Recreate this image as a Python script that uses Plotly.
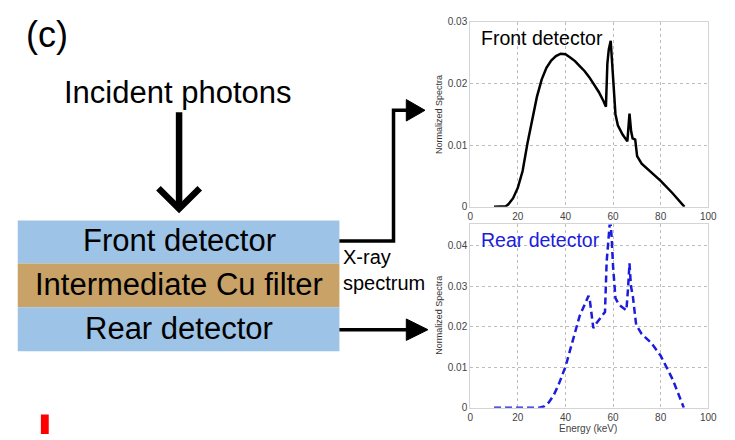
import plotly.graph_objects as go

# ---- spectra data (energy in keV, normalized counts) ----
front_energy = [10, 14, 15, 16, 18, 20, 22, 24, 26, 28, 30, 32, 34, 36, 38, 40, 42, 44, 46,
                48, 50, 52, 54, 56, 57, 57.6, 58.2, 59, 59.6, 60.3, 61, 62, 64, 66, 66.9,
                67.6, 68.2, 69.3, 70.1, 72, 75, 80, 85, 90]
front_spectrum = [0, 0, 0.0001, 0.0004, 0.0014, 0.0031, 0.0058, 0.0102, 0.0142, 0.0178, 0.0206,
                  0.0225, 0.0237, 0.0244, 0.0248, 0.0247, 0.0242, 0.0236, 0.0228, 0.0220,
                  0.0210, 0.0199, 0.0186, 0.0171, 0.0162, 0.0232, 0.0255, 0.0269, 0.0235,
                  0.0190, 0.0150, 0.0132, 0.0117, 0.0106, 0.0151, 0.0122, 0.0111, 0.0109,
                  0.0082, 0.0070, 0.0060, 0.0042, 0.0022, 0.0]

rear_energy = [10, 20, 29, 31, 33, 35, 37, 40, 42, 44, 46, 48, 49.7, 50.3, 51.7, 53, 55, 56.6,
               57.3, 58.2, 58.8, 59.4, 60, 61, 62.5, 64, 65.6, 66.3, 66.9, 67.5, 68.3, 69.7,
               72, 76, 80, 82, 85, 89.7]
rear_spectrum = [0, 0, 0, 0.0003, 0.0013, 0.0030, 0.0055, 0.0101, 0.0141, 0.0185, 0.0227,
                 0.0253, 0.0276, 0.0262, 0.0196, 0.0208, 0.0223, 0.0236, 0.0360, 0.0440,
                 0.0468, 0.0420, 0.0348, 0.0270, 0.0254, 0.0247, 0.0240, 0.0295, 0.0356,
                 0.0300, 0.0275, 0.0204, 0.0182, 0.0160, 0.0128, 0.0105, 0.0070, 0.0]

x_ticks = [0, 20, 40, 60, 80, 100]
front_y_ticks = [0, 0.01, 0.02, 0.03]
rear_y_ticks = [0, 0.01, 0.02, 0.03, 0.04]

layer_labels = ["Front detector", "Intermediate Cu filter", "Rear detector"]
layer_colors = ["#9dc3e6", "#c9a267", "#9dc3e6"]

W, H = 735, 440
FONT = "Liberation Sans, Arial, sans-serif"


def px(x):
    return x / W


def py(y):
    return 1 - y / H


fig = go.Figure()
fig.add_trace(go.Scatter(x=front_energy, y=front_spectrum, mode="lines",
                         line=dict(color="black", width=2.5), xaxis="x", yaxis="y"))
fig.add_trace(go.Scatter(x=rear_energy, y=rear_spectrum, mode="lines",
                         line=dict(color="#1c1cdc", width=2.5, dash="7px,4px"),
                         xaxis="x2", yaxis="y2"))

axis_common = dict(showline=True, mirror=True, linecolor="#d4d4d4", linewidth=1,
                   showgrid=True, gridcolor="#bdbdbd", griddash="dot", gridwidth=1,
                   zeroline=False, ticks="", tickfont=dict(family=FONT, size=10, color="#444"))

xdom = [px(475), px(717)]
fig.update_layout(
    width=W, height=H, margin=dict(l=0, r=0, t=0, b=0),
    paper_bgcolor="white", plot_bgcolor="white", showlegend=False,
    font=dict(family=FONT),
    xaxis=dict(domain=xdom, range=[0, 100], tickvals=x_ticks, anchor="y", **axis_common),
    yaxis=dict(domain=[py(207), py(17)], range=[0, 0.03], tickvals=front_y_ticks,
               anchor="x", **axis_common),
    xaxis2=dict(domain=xdom, range=[0, 100], tickvals=x_ticks, anchor="y2", **axis_common),
    yaxis2=dict(domain=[py(413), py(225)], range=[0, 0.0452], tickvals=rear_y_ticks,
                anchor="x2", **axis_common),
)

shapes = []
annotations = []

# layered detector stack
row_edges = [221, 265, 310, 355]
for i, (label, color) in enumerate(zip(layer_labels, layer_colors)):
    y0, y1 = row_edges[i], row_edges[i + 1]
    shapes.append(dict(type="rect", xref="paper", yref="paper",
                       x0=px(15), x1=px(342), y0=py(y1), y1=py(y0),
                       fillcolor=color, line=dict(width=0), layer="below"))
    annotations.append(dict(text=label, xref="paper", yref="paper",
                            x=px(179), y=py((y0 + y1) / 2 - 1), showarrow=False,
                            xanchor="center", yanchor="middle",
                            font=dict(family=FONT, size=31, color="black")))


def line_path(points, width):
    d = "M " + " L ".join(f"{px(x)},{py(y)}" for x, y in points)
    return dict(type="path", xref="paper", yref="paper", path=d,
                line=dict(color="black", width=width), fillcolor="rgba(0,0,0,0)")


def triangle(points):
    d = "M " + " L ".join(f"{px(x)},{py(y)}" for x, y in points) + " Z"
    return dict(type="path", xref="paper", yref="paper", path=d,
                line=dict(color="black", width=1), fillcolor="black")


# incident photon arrow
shapes.append(line_path([(179, 110), (179, 208)], 6.5))
shapes.append(line_path([(158, 188), (179, 209), (200, 188)], 6.5))

# front detector output arrow
shapes.append(line_path([(342, 242), (397, 242), (397, 108), (412, 108)], 3.5))
shapes.append(triangle([(410, 97), (429, 108), (410, 119)]))

# rear detector output arrow
shapes.append(line_path([(342, 333), (412, 333)], 3.5))
shapes.append(triangle([(410, 322), (432, 333), (410, 344)]))

# red marker at lower left
shapes.append(dict(type="rect", xref="paper", yref="paper",
                   x0=px(38.5), x1=px(46.5), y0=py(440), y1=py(420),
                   fillcolor="#ff0000", line=dict(width=0)))

annotations += [
    dict(text="(c)", xref="paper", yref="paper", x=px(21), y=py(30), showarrow=False,
         xanchor="left", yanchor="middle", font=dict(family=FONT, size=36, color="black")),
    dict(text="Incident photons", xref="paper", yref="paper", x=px(178), y=py(90),
         showarrow=False, xanchor="center", yanchor="middle",
         font=dict(family=FONT, size=31, color="black")),
    dict(text="X-ray<br>spectrum", xref="paper", yref="paper", x=px(344), y=py(272),
         showarrow=False, xanchor="left", yanchor="middle", align="left",
         font=dict(family=FONT, size=20, color="black")),
    dict(text="Front detector", xref="paper", yref="paper", x=px(484), y=py(34),
         showarrow=False, xanchor="left", yanchor="middle",
         font=dict(family=FONT, size=19.5, color="black")),
    dict(text="Rear detector", xref="paper", yref="paper", x=px(484), y=py(241),
         showarrow=False, xanchor="left", yanchor="middle",
         font=dict(family=FONT, size=19.5, color="#1c1cdc")),
    dict(text="Normalized Spectra", xref="paper", yref="paper", x=px(443), y=py(112),
         showarrow=False, textangle=-90, xanchor="center", yanchor="middle",
         font=dict(family=FONT, size=9, color="#333")),
    dict(text="Normalized Spectra", xref="paper", yref="paper", x=px(443), y=py(318),
         showarrow=False, textangle=-90, xanchor="center", yanchor="middle",
         font=dict(family=FONT, size=9, color="#333")),
    dict(text="Energy (keV)", xref="paper", yref="paper", x=px(595), y=py(440),
         showarrow=False, xanchor="center", yanchor="bottom", borderpad=0, yshift=-1,
         font=dict(family=FONT, size=10, color="#444")),
]

fig.update_layout(shapes=shapes, annotations=annotations)
fig.write_html("out.html")
